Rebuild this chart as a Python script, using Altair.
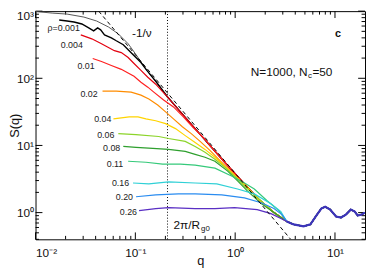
import altair as alt
import pandas as pd

# ---------------- data ----------------
# common high-q bundle (all curves coincide here)
master_q = [0.1303, 0.160, 0.2104, 0.2891, 0.3972, 0.5585, 0.7852, 1.239, 1.742, 2.449, 3.289,
            3.855, 4.842, 5.675, 6.501, 7.295, 7.98, 8.954, 10.26, 11.48, 12.88, 14.42, 15.78,
            16.90, 18.53, 19.82]
master_s = [131, 90.4, 52.6, 30.6, 17.8, 10.0, 5.62, 2.67, 1.55, 1.00, 0.738,
            0.667, 0.623, 0.667, 0.904, 1.15, 1.22, 1.11, 0.873, 0.844, 0.935, 1.11, 1.035,
            0.904, 0.935, 1.00]

gray_q = [0.0100, 0.0147, 0.0207, 0.0305, 0.0409, 0.0537, 0.0675, 0.0847, 0.1016]
gray_s = [990, 935, 904, 816, 713, 582, 459, 327, 225]

r001_q = [0.01726, 0.0207, 0.0243, 0.0291, 0.0341, 0.0382, 0.0419, 0.0449, 0.0491, 0.0575,
          0.0644, 0.0757, 0.0908, 0.1138]
r001_s = [738, 713, 689, 644, 562, 508, 562, 526, 444, 401, 362, 316, 241, 172]

r004_q = [0.0284, 0.0366, 0.0458, 0.0617, 0.0723, 0.0847, 0.097, 0.1138, 0.1333, 0.160]
r004_s = [444, 387, 327, 258, 241, 204, 166, 131, 103.5, 81.7]

r01_q = [0.0374, 0.0458, 0.0575, 0.0723, 0.0828, 0.097, 0.1138, 0.1333, 0.1531, 0.1919,
         0.241, 0.3027, 0.3793, 0.4989]
r01_s = [197, 178, 155, 136, 122, 107, 87.3, 73.8, 62.3, 47.5, 37.5, 26.7, 18.4, 12.3]

r02_q = [0.0469, 0.0644, 0.0908, 0.1138, 0.1365, 0.1675, 0.2009, 0.241, 0.2958, 0.3631,
         0.4457, 0.5585, 0.7015, 0.881, 1.104]
r02_s = [64.4, 64.4, 62.3, 56.2, 49.1, 40.1, 31.6, 24.9, 19.0, 15.0, 11.5, 8.44, 6.01, 4.29, 3.06]

r04_q = [0.0603, 0.0867, 0.1064, 0.1277, 0.160, 0.2009, 0.2523, 0.3162, 0.3972, 0.4989,
         0.6266, 0.7852, 0.986, 1.239]
r04_s = [24.9, 26.7, 26.7, 24.9, 23.3, 21.1, 17.8, 14.0, 11.1, 8.73, 6.66, 4.91, 3.62, 2.58]

r06_q = [0.0675, 0.1016, 0.1714, 0.2153, 0.3162, 0.3972, 0.4989, 0.6266, 0.7852, 0.986,
         1.239, 1.556, 1.951]
r06_s = [15.0, 14.5, 13.6, 12.7, 11.5, 9.67, 7.89, 6.23, 4.75, 3.50, 2.49, 1.84, 1.36]

r08_q = [0.0757, 0.1016, 0.1496, 0.2153, 0.3162, 0.3972, 0.4989, 0.6266, 0.8414, 1.057,
         1.325, 1.824]
r08_s = [9.67, 9.35, 9.04, 8.73, 8.16, 7.37, 6.66, 5.82, 4.15, 2.96, 2.11, 1.36]

r11_q = [0.0847, 0.1277, 0.1875, 0.2825, 0.3972, 0.6266, 0.9204, 1.239, 1.556, 2.089, 2.742]
r11_s = [5.82, 5.62, 5.26, 5.26, 5.08, 4.59, 3.50, 2.76, 2.25, 1.50, 1.07]

r16_q = [0.0948, 0.1365, 0.2153, 0.3972, 0.6546, 1.057, 1.556, 2.286, 2.871]
r16_s = [2.76, 2.67, 2.86, 2.76, 2.67, 2.25, 1.90, 1.36, 1.035]

r20_q = [0.1016, 0.160, 0.2698, 0.3972, 0.7345, 1.239, 1.824, 2.449, 2.94]
r20_s = [1.72, 1.84, 1.90, 1.90, 1.84, 1.66, 1.40, 1.15, 0.935]

r26_q = [0.1089, 0.160, 0.2153, 0.3972, 0.6266, 0.986, 1.663, 2.286, 2.871, 3.606]
r26_s = [1.07, 1.15, 1.19, 1.15, 1.15, 1.19, 1.11, 0.967, 0.816, 0.690]

series_names = ["single", "0.001", "0.004", "0.01", "0.02", "0.04", "0.06", "0.08",
                "0.11", "0.16", "0.20", "0.26"]
series_q = [gray_q, r001_q, r004_q, r01_q, r02_q, r04_q, r06_q, r08_q, r11_q, r16_q, r20_q, r26_q]
series_s = [gray_s, r001_s, r004_s, r01_s, r02_s, r04_s, r06_s, r08_s, r11_s, r16_s, r20_s, r26_s]
series_colors = ["#555555", "#000000", "#e3000f", "#ff2020", "#ff8c00", "#ffd400", "#8cd42a",
                 "#2e9f2e", "#35c97a", "#2fd0d6", "#2a8cf0", "#5a2fc4"]
series_widths = [1.0, 1.4, 1.2, 1.2, 1.2, 1.2, 1.2, 1.2, 1.2, 1.2, 1.2, 1.3]

label_texts = ["ρ=0.001", "0.004", "0.01", "0.02", "0.04", "0.06", "0.08", "0.11", "0.16",
               "0.20", "0.26"]
label_q = [0.0278, 0.0298, 0.0391, 0.0419, 0.0575, 0.0617, 0.0706, 0.0757, 0.0867, 0.0948, 0.104]
label_s = [562, 316, 150, 58.2, 24.9, 14.5, 9.04, 5.26, 2.76, 1.72, 1.035]

slope_q = [0.0429, 3.6]
slope_s = [1000, 0.4]
rg_q = [0.21]

x_major = [0.01, 0.1, 1, 10]
x_labels = ["10⁻²", "10⁻¹", "10⁰", "10¹"]
x_minor = [0.02, 0.03, 0.04, 0.05, 0.06, 0.07, 0.08, 0.09,
           0.2, 0.3, 0.4, 0.5, 0.6, 0.7, 0.8, 0.9,
           2, 3, 4, 5, 6, 7, 8, 9]
y_major = [1, 10, 100, 1000]
y_labels = ["10⁰", "10¹", "10²", "10³"]
y_minor = [0.4, 0.5, 0.6, 0.7, 0.8, 0.9, 2, 3, 4, 5, 6, 7, 8, 9,
           20, 30, 40, 50, 60, 70, 80, 90, 200, 300, 400, 500, 600, 700, 800, 900]

# ---------------- chart ----------------
W, H = 335, 232
FONT = "Liberation Sans"
XS = alt.Scale(type="log", domain=[0.01, 20], nice=False)
YS = alt.Scale(type="log", domain=[0.4, 1000], nice=False)


def label_expr(values, labels):
    parts = []
    for v, l in zip(values, labels):
        parts.append(f"abs(datum.value - {v}) < {v} * 0.01 ? '{l}'")
    return " : ".join(parts) + " : ''"


X_AXIS = alt.Axis(values=x_major, labelExpr=label_expr(x_major, x_labels), ticks=False,
                  domain=False, grid=False, labelPadding=8, labelFontSize=12,
                  labelFont=FONT, labelColor="#111", title="q", titleFont=FONT,
                  titleFontSize=13, titleFontWeight="normal", titleY=26,
                  titleBaseline="alphabetic", titleColor="#111", labelOverlap=False)
Y_AXIS = alt.Axis(values=y_major, labelExpr=label_expr(y_major, y_labels), ticks=False,
                  domain=False, grid=False, labelPadding=2, labelFontSize=12,
                  labelFont=FONT, labelColor="#111", labelFlush=True, title="S(q)",
                  titleFont=FONT, titleFontSize=13, titleFontWeight="normal",
                  titlePadding=-5, titleColor="#111", labelOverlap=False)


def X(field="q"):
    return alt.X(field, type="quantitative", scale=XS, axis=X_AXIS)


def Y(field="s"):
    return alt.Y(field, type="quantitative", scale=YS, axis=Y_AXIS)


layers = []

# inward ticks on all four sides
for vals, ln in ((x_major, 7), (x_minor, 3.5)):
    d = pd.DataFrame({"q": vals})
    layers.append(alt.Chart(d).mark_rule(color="black", strokeWidth=1).encode(
        x=X(), y=alt.value(H), y2=alt.value(H - ln)))
    layers.append(alt.Chart(d).mark_rule(color="black", strokeWidth=1).encode(
        x=X(), y=alt.value(0), y2=alt.value(ln)))
for vals, ln in ((y_major, 7), (y_minor, 3.5)):
    d = pd.DataFrame({"s": vals})
    layers.append(alt.Chart(d).mark_rule(color="black", strokeWidth=1).encode(
        y=Y(), x=alt.value(0), x2=alt.value(ln)))
    layers.append(alt.Chart(d).mark_rule(color="black", strokeWidth=1).encode(
        y=Y(), x=alt.value(W), x2=alt.value(W - ln)))

# vertical dotted line at 2pi/Rg0
layers.append(alt.Chart(pd.DataFrame({"q": rg_q})).mark_rule(
    color="black", strokeWidth=1, strokeDash=[1, 2]).encode(x=X()))

# curves: own low-q part + common bundle
for name, qs, ss, col, w in zip(series_names, series_q, series_s, series_colors, series_widths):
    q_all = list(qs)
    s_all = list(ss)
    for mq, ms in zip(master_q, master_s):
        if mq > qs[-1] * 1.02:
            q_all.append(mq)
            s_all.append(ms)
    d = pd.DataFrame({"q": q_all, "s": s_all, "i": list(range(len(q_all)))})
    layers.append(alt.Chart(d).mark_line(color=col, strokeWidth=w, clip=True).encode(
        x=X(), y=Y(), order="i:Q"))

# overlapping curves at high q form a thicker dark-blue band
tail = pd.DataFrame({"q": [m for m in master_q if m > 3.2],
                     "s": [s for m, s in zip(master_q, master_s) if m > 3.2]})
layers.append(alt.Chart(tail).mark_line(color="#3b32b8", strokeWidth=2.2, clip=True,
                                        opacity=0.9).encode(x=X(), y=Y()))

# -1/nu slope line
layers.append(alt.Chart(pd.DataFrame({"q": slope_q, "s": slope_s})).mark_line(
    color="black", strokeWidth=1, strokeDash=[4, 3], clip=True).encode(x=X(), y=Y()))

# series labels
lab_df = pd.DataFrame({"q": label_q, "s": label_s, "t": label_texts})
layers.append(alt.Chart(lab_df).mark_text(align="right", baseline="middle", font=FONT,
                                          fontSize=9, color="#222").encode(
    x=X(), y=Y(), text="t:N"))


def txt(t, q, s, size, align="left", weight="normal"):
    d = pd.DataFrame({"q": [q], "s": [s], "t": [t]})
    return alt.Chart(d).mark_text(align=align, baseline="middle", font=FONT, fontSize=size,
                                  fontWeight=weight, color="#111").encode(
        x=X(), y=Y(), text="t:N")


layers.append(txt("-1/ν", 0.1164, 474, 12, align="center"))
layers.append(txt("c", 10.7, 459, 11, align="center", weight="bold"))
layers.append(txt("N=1000, N", 5.31, 122, 12, align="right"))
layers.append(txt("c", 5.61, 108, 8, align="center"))
layers.append(txt("=50", 5.94, 122, 12, align="left"))
layers.append(txt("2π/R", 0.241, 0.644, 12, align="left"))
layers.append(txt("g0", 0.455, 0.575, 8, align="left"))

chart = alt.layer(*layers).properties(
    width=W, height=H,
    padding={"left": 0, "top": 0, "right": 0, "bottom": 0},
    background="white",
).configure_view(stroke="black", strokeWidth=1)

chart.save("out.html", embed_options={"renderer": "svg", "actions": False})
